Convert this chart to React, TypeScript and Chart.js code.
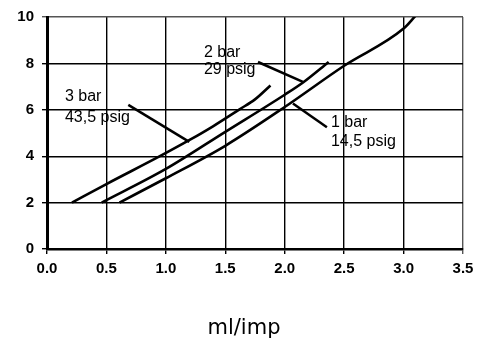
import React, { useEffect, useRef } from 'react';
import { Chart, registerables } from 'chart.js';

Chart.register(...registerables);

// Tick values
const xTicks = [0, 0.5, 1.0, 1.5, 2.0, 2.5, 3.0, 3.5];
const yTicks = [0, 2, 4, 6, 8, 10];

// Series: 3 bar (43,5 psig)
const bar3X = [0.21, 0.5, 0.95, 1.2, 1.4, 1.62, 1.75, 1.88];
const bar3Y = [2.0, 2.8, 4.0, 4.7, 5.3, 6.02, 6.45, 7.05];
// Series: 2 bar (29 psig)
const bar2X = [0.46, 1.0, 1.5, 2.0, 2.16, 2.37];
const bar2Y = [2.0, 3.45, 5.05, 6.65, 7.2, 8.06];
// Series: 1 bar (14,5 psig)
const bar1X = [0.61, 1.0, 1.5, 2.0, 2.5, 3.0, 3.1];
const bar1Y = [2.0, 3.05, 4.45, 6.12, 7.9, 9.5, 10.05];

// Annotation text (in data coordinates: left x, centre y)
const noteTexts = ['3 bar', '43,5 psig', '2 bar', '29 psig', '1 bar', '14,5 psig'];
const noteX = [0.151, 0.151, 1.32, 1.32, 2.389, 2.389];
const noteY = [6.567, 5.684, 8.486, 7.731, 5.429, 4.648];

// Pointer lines (data coordinates)
const pointerX1 = [0.684, 1.775, 2.069];
const pointerY1 = [6.21, 8.06, 6.27];
const pointerX2 = [1.197, 2.153, 2.355];
const pointerY2 = [4.62, 7.2, 5.25];

const axisTitle = 'ml/imp';

const zip = (xs: number[], ys: number[]) => xs.map((x, i) => ({ x, y: ys[i] }));

const annotationPlugin = {
  id: 'notes',
  afterDatasetsDraw(chart: any) {
    const { ctx, scales } = chart;
    const xs = scales.x;
    const ys = scales.y;
    ctx.save();
    ctx.strokeStyle = '#000';
    ctx.lineWidth = 2.5;
    ctx.lineCap = 'butt';
    for (let i = 0; i < pointerX1.length; i++) {
      ctx.beginPath();
      ctx.moveTo(xs.getPixelForValue(pointerX1[i]), ys.getPixelForValue(pointerY1[i]));
      ctx.lineTo(xs.getPixelForValue(pointerX2[i]), ys.getPixelForValue(pointerY2[i]));
      ctx.stroke();
    }
    ctx.fillStyle = '#000';
    ctx.font = '16px "Liberation Sans", Arial, sans-serif';
    ctx.textAlign = 'left';
    ctx.textBaseline = 'middle';
    for (let i = 0; i < noteTexts.length; i++) {
      ctx.fillText(noteTexts[i], xs.getPixelForValue(noteX[i]), ys.getPixelForValue(noteY[i]));
    }
    ctx.restore();
  },
  afterDraw(chart: any) {
    const { ctx, width } = chart;
    ctx.save();
    ctx.fillStyle = '#000';
    ctx.font = '21px "DejaVu Sans", sans-serif';
    ctx.textAlign = 'center';
    ctx.textBaseline = 'alphabetic';
    ctx.fillText(axisTitle, width / 2, 334);
    ctx.restore();
  },
};

export default function App() {
  const ref = useRef<HTMLCanvasElement | null>(null);

  useEffect(() => {
    document.body.style.margin = '0';
    const canvas = ref.current;
    if (!canvas) return;
    const lineStyle = {
      borderColor: '#000',
      backgroundColor: '#000',
      borderWidth: 2.6,
      pointRadius: 0,
      showLine: true,
      fill: false,
      cubicInterpolationMode: 'monotone' as const,
    };
    const tickFont = { family: '"Liberation Sans", Arial, sans-serif', size: 15, weight: 'bold' as const };
    const chart = new Chart(canvas, {
      type: 'scatter',
      data: {
        datasets: [
          { label: '3 bar', data: zip(bar3X, bar3Y), ...lineStyle },
          { label: '2 bar', data: zip(bar2X, bar2Y), ...lineStyle },
          { label: '1 bar', data: zip(bar1X, bar1Y), ...lineStyle },
        ],
      },
      options: {
        animation: false,
        responsive: false,
        maintainAspectRatio: false,
        devicePixelRatio: 1,
        layout: { padding: { left: 0, right: 25, top: 14, bottom: 65 } },
        plugins: {
          legend: { display: false },
          tooltip: { enabled: false },
        },
        scales: {
          x: {
            type: 'linear',
            min: 0,
            max: 3.5,
            afterBuildTicks: (scale: any) => {
              scale.ticks = xTicks.map((v) => ({ value: v }));
            },
            afterFit: (scale: any) => {
              scale.height = 30;
            },
            ticks: {
              color: '#000',
              font: tickFont,
              padding: 6,
              maxRotation: 0,
              callback: (v: any) => Number(v).toFixed(1),
            },
            grid: {
              color: (c: any) => (c.tick && c.tick.value === 3.5 ? '#555' : '#000'),
              lineWidth: 1.4,
              tickLength: 5,
              drawTicks: true,
            },
            border: { display: true, color: '#000', width: 2.6 },
          },
          y: {
            type: 'linear',
            min: 0,
            max: 10,
            afterBuildTicks: (scale: any) => {
              scale.ticks = yTicks.map((v) => ({ value: v }));
            },
            afterFit: (scale: any) => {
              scale.width = 47;
            },
            ticks: {
              color: '#000',
              font: tickFont,
              padding: 8,
              callback: (v: any) => String(v),
            },
            grid: {
              color: (c: any) => (c.tick && c.tick.value === 10 ? '#555' : '#000'),
              lineWidth: 1.4,
              tickLength: 5,
              drawTicks: true,
            },
            border: { display: true, color: '#000', width: 3 },
          },
        },
      },
      plugins: [annotationPlugin],
    });
    return () => chart.destroy();
  }, []);

  return (
    <div style={{ width: 488, height: 344, position: 'relative' }}>
      <canvas ref={ref} width={488} height={344} style={{ display: 'block', width: 488, height: 344 }} />
    </div>
  );
}
